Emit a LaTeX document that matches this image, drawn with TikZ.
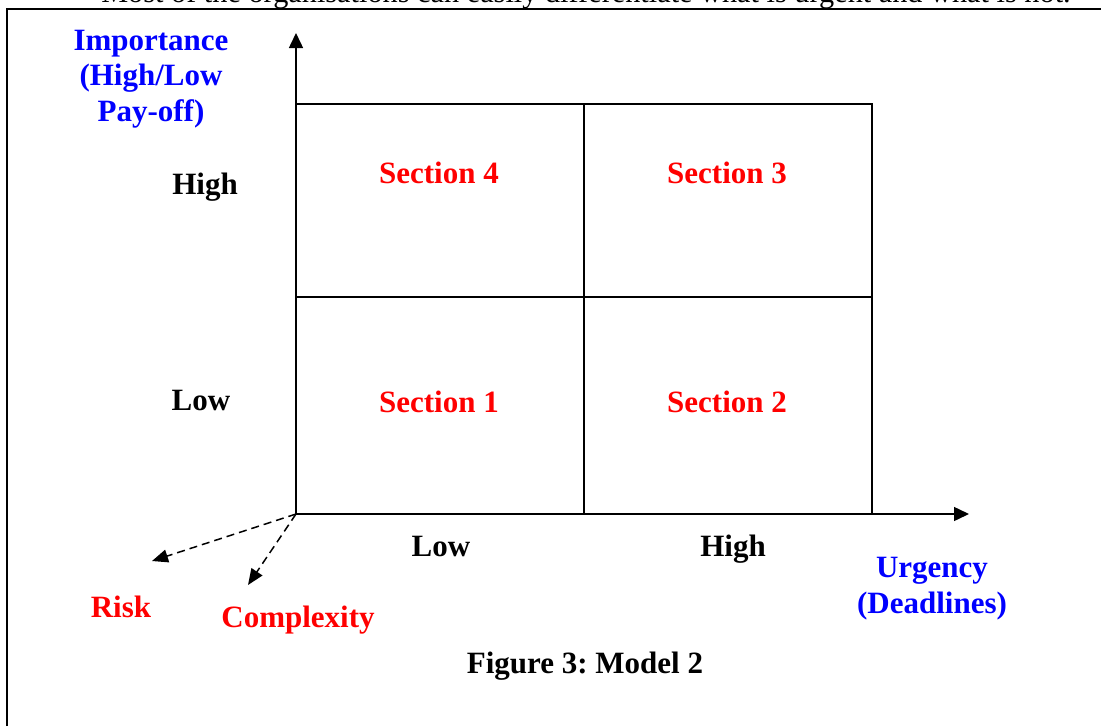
\documentclass[tikz,border=0pt]{standalone}
\usepackage{fontspec}
\setmainfont{Liberation Serif}
\usetikzlibrary{arrows.meta, positioning}
\frenchspacing

\tikzset{
  lbl/.style={font=\fontsize{31}{36}\selectfont\bfseries, inner sep=0pt},
  axislbl/.style={lbl, blue, align=center},
  sect/.style={lbl, red, anchor=base},
  level/.style={lbl, anchor=base},
  factor/.style={lbl, red, anchor=base},
  bigarrow/.style={-{Triangle[length=15pt,width=14pt]}},
  dasharrow/.style={-{Triangle[length=16pt,width=13pt]}, dash pattern=on 8pt off 5pt}
}

\begin{document}
\begin{tikzpicture}[x=1pt, y=-1pt, line width=1.5pt]
  \useasboundingbox (0,0) rectangle (1101,726);
  % Running text above the frame (cut off)
  \node[font=\fontsize{30.3}{33}\selectfont, inner sep=0pt, anchor=base] (intro) at (586,2)
    {Most of the organisations can easily differentiate what is urgent and what is not.};
  % Frame
  \draw (7,726) -- (7,9) -- (1101,9);
  % Axes
  \coordinate (origin) at (296,514);
  \coordinate (ytip) at (296,33);
  \coordinate (xtip) at (969,514);
  \draw[bigarrow] (origin) -- (ytip);
  \draw[bigarrow] (origin) -- (xtip);
  % Grid of sections
  \draw (296,104) rectangle (872,514);
  \draw (584,104) -- (584,514);
  \draw (296,297) -- (872,297);
  % Section labels
  \node[sect] (s4) at (439,183) {Section 4};
  \node[sect] (s3) at (727,183) {Section 3};
  \node[sect] (s1) at (439,412) {Section 1};
  \node[sect] (s2) at (727,412) {Section 2};
  % Importance axis
  \node[axislbl, anchor=north, font=\fontsize{31}{35.5}\selectfont\bfseries] (imp) at (151,29)
    {Importance\\(High/Low\\Pay-off)};
  \node[level] (yhigh) at (205,194) {High};
  \node[level] (ylow) at (201,410) {Low};
  % Urgency axis
  \node[level] (xlow) at (441,556) {Low};
  \node[level] (xhigh) at (733,556) {High};
  \node[axislbl, anchor=north, font=\fontsize{31}{36}\selectfont\bfseries] (urg) at (932,556)
    {Urgency\\(Deadlines)};
  % Third dimensions
  \coordinate (risktip) at (152,561);
  \coordinate (comptip) at (248,585);
  \draw[dasharrow] (origin) -- (risktip);
  \draw[dasharrow] (origin) -- (comptip);
  \node[factor] (risk) at (121,617) {Risk};
  \node[factor] (comp) at (298,627) {Complexity};
  % Caption
  \node[level] (cap) at (585,673) {Figure 3: Model 2};
\end{tikzpicture}
\end{document}
